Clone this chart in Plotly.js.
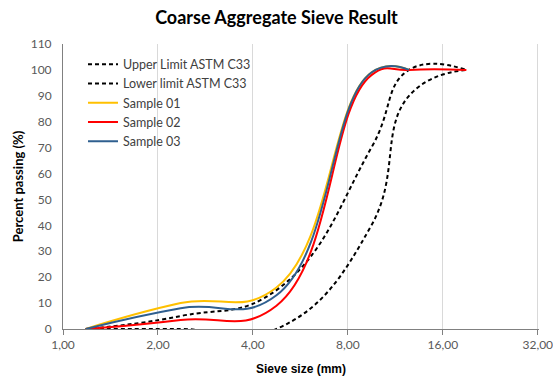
<!DOCTYPE html>
<html>
<head>
<meta charset="utf-8">
<script src="https://cdn.plot.ly/plotly-3.0.1.min.js"></script>
<style>
html,body{margin:0;padding:0;background:#fff;}
#chart{width:553px;height:376px;}
</style>
</head>
<body>
<div id="chart"></div>
<script>
// Sieve sizes (mm)
const sieveSizes = [1.18, 2.36, 4.75, 9.5, 12.5, 19];
const sieveSizesShort = [1.18, 2.36, 4.75, 9.5, 12.5];
// ASTM C33 limits (% passing)
const upperLimit = [0, 5, 15, 70, 100, 100];
const lowerLimit = [0, 0, 0, 40, 90, 100];
// Samples (% passing)
const sample01 = [0, 10, 16, 99, 100];
const sample02 = [0, 3.5, 9, 98, 100, 100];
const sample03 = [0, 8, 13, 99, 100];
// Axis ticks
const xTickVals = [1, 2, 4, 8, 16, 32];
const xTickText = ["1,00", "2,00", "4,00", "8,00", "16,00", "32,00"];
const yTickVals = [0, 10, 20, 30, 40, 50, 60, 70, 80, 90, 100, 110];

const sm = 1.3;
const traces = [
  {x: sieveSizes, y: upperLimit, name: "Upper Limit ASTM C33", mode: "lines",
   line: {color: "#000000", width: 2, dash: "4px,3px", shape: "spline", smoothing: sm}},
  {x: sieveSizes, y: lowerLimit, name: "Lower limit ASTM C33", mode: "lines",
   line: {color: "#000000", width: 2, dash: "4px,3px", shape: "spline", smoothing: sm}},
  {x: sieveSizesShort, y: sample01, name: "Sample 01", mode: "lines",
   line: {color: "#FFC000", width: 2, shape: "spline", smoothing: sm}},
  {x: sieveSizes, y: sample02, name: "Sample 02", mode: "lines",
   line: {color: "#FF0000", width: 2, shape: "spline", smoothing: sm}},
  {x: sieveSizesShort, y: sample03, name: "Sample 03", mode: "lines",
   line: {color: "#2F5F8F", width: 2, shape: "spline", smoothing: sm}}
];

const layout = {
  width: 553, height: 376,
  paper_bgcolor: "#ffffff", plot_bgcolor: "#ffffff",
  margin: {l: 63, r: 14, t: 44, b: 47},
  font: {family: "Lato, 'Open Sans', sans-serif", color: "#595959", size: 12},
  title: {text: "<b>Coarse Aggregate Sieve Result</b>", x: 0.5, xanchor: "center", y: 0.952, yanchor: "middle",
          font: {family: "Lato, 'Open Sans', sans-serif", size: 18, color: "#000000"}},
  showlegend: true,
  legend: {x: 0.042, y: 0.98, xanchor: "left", yanchor: "top", bgcolor: "rgba(0,0,0,0)",
           font: {family: "Lato, 'Open Sans', sans-serif", size: 12.5, color: "#404040"},
           tracegroupgap: 0, itemwidth: 30},
  xaxis: {
    type: "log", range: [0, 1.509],
    tickvals: xTickVals, ticktext: xTickText,
    ticklabeloverflow: "allow",
    showgrid: true, gridcolor: "#d9d9d9", gridwidth: 1,
    showline: true, linecolor: "#808080", linewidth: 1,
    ticks: "outside", ticklen: 5, tickcolor: "#808080",
    zeroline: false,
    tickfont: {size: 12, color: "#595959"},
    title: {text: "<b>Sieve size (mm)</b>", standoff: 13,
            font: {family: "'Liberation Sans', Arial, sans-serif", size: 12, color: "#000000"}}
  },
  yaxis: {
    range: [0, 110], tickvals: yTickVals,
    showgrid: false, zeroline: false,
    showline: true, linecolor: "#808080", linewidth: 1,
    ticks: "", ticklabelstandoff: 8,
    tickfont: {size: 12, color: "#595959"},
    title: {text: "<b>Percent passing (%)</b>", standoff: 4,
            font: {family: "Lato, 'Open Sans', sans-serif", size: 13, color: "#000000"}}
  }
};

Plotly.newPlot("chart", traces, layout, {staticPlot: true, displayModeBar: false});
</script>
</body>
</html>
